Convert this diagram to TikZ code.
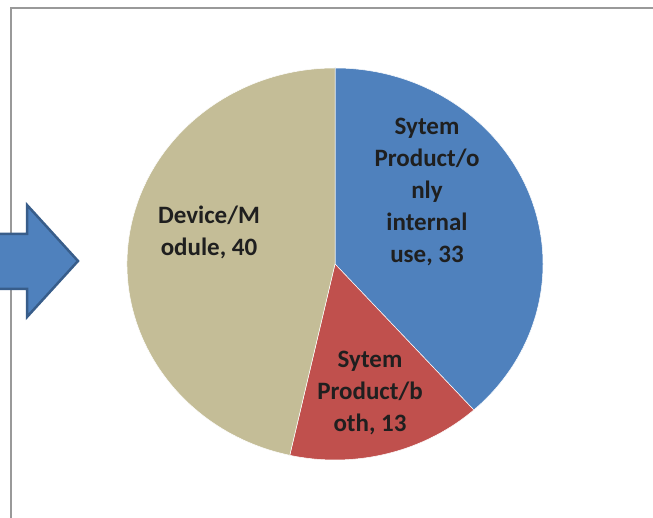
\documentclass[tikz,border=0pt]{standalone}
\usepackage{fontspec}
\setmainfont{Carlito}
\usetikzlibrary{calc}
\begin{document}
\begin{tikzpicture}[x=1pt,y=1pt,
  slice/.style={draw=white,line width=0.5pt,line join=round},
  lbl/.style={align=center,font=\bfseries\fontsize{25}{32}\selectfont,text=black!88,inner sep=0pt},
  frame/.style={draw=black!40,line width=1.8pt}]
\useasboundingbox (0,0) rectangle (653,518);
\clip (0,0) rectangle (653,518);
\fill[white] (0,0) rectangle (653,518);
\coordinate (c) at (335,254);
\definecolor{pblue}{HTML}{4F81BD}
\definecolor{pred}{HTML}{C0504D}
\definecolor{ptan}{HTML}{C4BD97}
\definecolor{aborder}{HTML}{385D8A}
% frame
\coordinate (f0) at (11,-5);
\coordinate (f1) at (11,510);
\coordinate (f2) at (660,510);
\draw[frame] (f0) -- (f1) -- (f2);
% pie slices
\fill[pblue,slice] (c) -- ($(c)+(90:208 and 196)$) arc[start angle=90,end angle=-48.14,x radius=208,y radius=196] -- cycle;
\fill[pred,slice] (c) -- ($(c)+(-48.14:208 and 196)$) arc[start angle=-48.14,end angle=-102.56,x radius=208,y radius=196] -- cycle;
\fill[ptan,slice] (c) -- ($(c)+(-102.56:208 and 196)$) arc[start angle=-102.56,end angle=-270,x radius=208,y radius=196] -- cycle;
% labels
\node[lbl] (lblue) at (427,326) {Sytem\\Product/o\\nly\\internal\\use, 33};
\node[lbl] (lred) at (370,125) {Sytem\\Product/b\\oth, 13};
\node[lbl] (ltan) at (209,286) {Device/M\\odule, 40};
% arrow
\draw[fill=pblue,draw=aborder,line width=2.5pt,line join=miter]
  (-5,284) -- (27,284) -- (27,313) -- (78,257) -- (27,201) -- (27,229) -- (-5,229) -- cycle;
\end{tikzpicture}
\end{document}
